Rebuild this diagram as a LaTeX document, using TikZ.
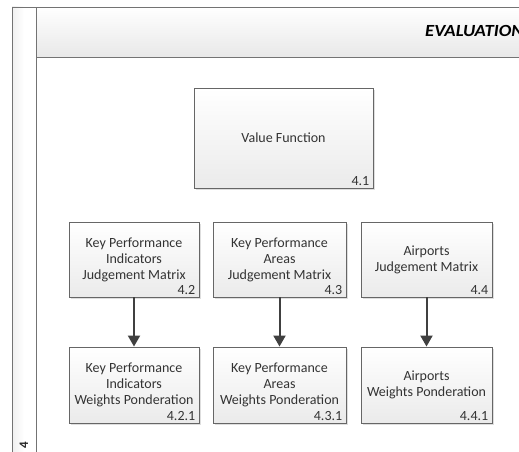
\documentclass[tikz,border=0pt]{standalone}
\usepackage{fontspec}
\setmainfont{Carlito}
\usetikzlibrary{arrows.meta,shadows}
\tikzset{
  x=1pt,y=-1pt,
  frameline/.style={draw=black!55,line width=0.9pt},
  procbox/.style={draw=black!60,line width=0.9pt,top color=white,bottom color=black!8,
    align=center,font=\fontsize{14}{16}\selectfont,text=black!80,inner sep=0pt,
    drop shadow={shadow xshift=1.5pt,shadow yshift=-1.5pt,fill=black!25,opacity=0.5}},
  numlbl/.style={font=\fontsize{14}{16}\selectfont,text=black!80,inner sep=0pt,anchor=south east},
  flow/.style={draw=black!75,line width=2pt,-{Triangle[length=11pt,width=12pt]}}
}
\begin{document}
\begin{tikzpicture}
\useasboundingbox (0,0) rectangle (519,452);
\begin{scope}
\clip (0,0) rectangle (519,452);
\fill[white] (0,0) rectangle (519,452);
% lane strip
\shade[left color=black!6,right color=white,middle color=white] (12,7) rectangle (36,460);
\draw[frameline] (12,460) -- (12,7) -- (530,7);
\draw[frameline] (36,7) -- (36,460);
% header
\shade[top color=white,bottom color=black!9] (36,7) rectangle (530,57);
\draw[frameline] (36,7) rectangle (530,57);
\node[anchor=base west,inner sep=0pt,xscale=1.1,font=\fontsize{17}{19}\selectfont\bfseries\itshape] (title) at (425,37) {EVALUATION};
\node[rotate=90,inner sep=0pt,font=\fontsize{13}{15}\selectfont\bfseries,text=black!85] (lanenum) at (24,445) {4};
\end{scope}

\node[procbox,minimum width=179pt,minimum height=100pt] (vf) at (283.5,138) {Value Function};
\node[numlbl] (vfn) at ([xshift=-4pt,yshift=3pt]vf.south east) {4.1};

\node[procbox,minimum width=130pt,minimum height=75pt] (a1) at (134,259.5) {Key Performance\\Indicators\\Judgement Matrix};
\node[numlbl] (a1n) at ([xshift=-4pt,yshift=3pt]a1.south east) {4.2};
\node[procbox,minimum width=133pt,minimum height=75pt] (a2) at (279.5,259.5) {Key Performance\\Areas\\Judgement Matrix};
\node[numlbl] (a2n) at ([xshift=-4pt,yshift=3pt]a2.south east) {4.3};
\node[procbox,minimum width=131pt,minimum height=75pt] (a3) at (426.5,259.5) {Airports\\Judgement Matrix};
\node[numlbl] (a3n) at ([xshift=-4pt,yshift=3pt]a3.south east) {4.4};

\node[procbox,minimum width=130pt,minimum height=76pt] (b1) at (134,385) {Key Performance\\Indicators\\Weights Ponderation};
\node[numlbl] (b1n) at ([xshift=-4pt,yshift=3pt]b1.south east) {4.2.1};
\node[procbox,minimum width=133pt,minimum height=76pt] (b2) at (279.5,385) {Key Performance\\Areas\\Weights Ponderation};
\node[numlbl] (b2n) at ([xshift=-4pt,yshift=3pt]b2.south east) {4.3.1};
\node[procbox,minimum width=131pt,minimum height=76pt] (b3) at (426.5,385) {Airports\\Weights Ponderation};
\node[numlbl] (b3n) at ([xshift=-4pt,yshift=3pt]b3.south east) {4.4.1};

\draw[flow] (a1) -- (b1);
\draw[flow] (a2) -- (b2);
\draw[flow] (a3) -- (b3);
\end{tikzpicture}
\end{document}
